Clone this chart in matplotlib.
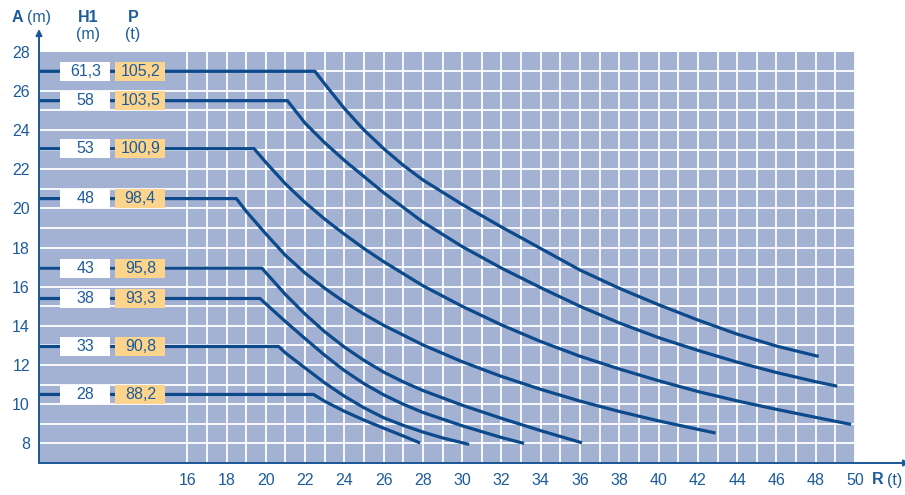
import matplotlib
matplotlib.use('Agg')
import matplotlib.pyplot as plt
from matplotlib.patches import Rectangle

plt.rcParams['font.family'] = ['Liberation Sans', 'DejaVu Sans']

# ---------------- data ----------------
h1_labels = ['61,3', '58', '53', '48', '43', '38', '33', '28']
p_labels = ['105,2', '103,5', '100,9', '98,4', '95,8', '93,3', '90,8', '88,2']

# each curve: first point = knee of the flat part (R in t, A in m)
r_1 = [22.5, 23, 24, 25, 26, 27, 28, 30, 32, 34, 36, 38, 40, 42, 44, 46, 48.15]
a_1 = [27.0, 26.35, 25.1, 24.0, 23.05, 22.2, 21.45, 20.2, 19.05, 17.95, 16.85, 15.92,
       15.08, 14.3, 13.58, 12.97, 12.44]

r_2 = [21.1, 22, 23, 24, 26, 28, 30, 32, 34, 36, 38, 40, 42, 44, 46, 48, 49.1]
a_2 = [25.5, 24.35, 23.35, 22.45, 20.8, 19.3, 18.05, 16.95, 15.95, 15.0, 14.15, 13.4,
       12.75, 12.15, 11.62, 11.15, 10.92]

r_3 = [19.4, 20, 21, 22, 23, 24, 25, 26, 28, 30, 32, 34, 36, 38, 40, 42, 44, 46, 48, 49.8]
a_3 = [23.05, 22.35, 21.25, 20.3, 19.45, 18.68, 17.95, 17.28, 16.05, 15.0, 14.05, 13.2,
       12.45, 11.8, 11.2, 10.65, 10.17, 9.74, 9.33, 8.97]

r_4 = [18.5, 19, 20, 21, 22, 23, 24, 25, 26, 28, 30, 32, 34, 36, 38, 40, 42, 42.9]
a_4 = [20.5, 19.85, 18.7, 17.6, 16.7, 15.92, 15.22, 14.6, 14.03, 13.03, 12.17, 11.42,
       10.76, 10.16, 9.63, 9.15, 8.72, 8.53]

r_5 = [19.8, 20, 21, 22, 23, 24, 25, 26, 27, 28, 30, 32, 34, 36.1]
a_5 = [16.95, 16.72, 15.6, 14.6, 13.7, 12.92, 12.24, 11.64, 11.14, 10.7, 9.95, 9.28,
       8.65, 8.03]

r_6 = [19.7, 21, 22, 23, 24, 25, 26, 27, 28, 30, 32, 33.15]
a_6 = [15.4, 14.22, 13.35, 12.5, 11.72, 11.05, 10.48, 10.0, 9.58, 8.9, 8.3, 8.0]

r_7 = [20.65, 21, 22, 23, 24, 25, 26, 27, 28, 29, 30.35]
a_7 = [12.95, 12.62, 11.85, 11.09, 10.41, 9.82, 9.31, 8.92, 8.58, 8.28, 7.95]

r_8 = [22.43, 23, 24, 25, 26, 27, 27.86]
a_8 = [10.5, 10.15, 9.64, 9.19, 8.78, 8.38, 8.02]

curves_r = [r_1, r_2, r_3, r_4, r_5, r_6, r_7, r_8]
curves_a = [a_1, a_2, a_3, a_4, a_5, a_6, a_7, a_8]

x_ticks = list(range(16, 51, 2))
y_ticks = list(range(8, 29, 2))
x_grid = list(range(16, 51))
y_grid = list(range(8, 28))

# ---------------- style ----------------
W, H = 905, 495
BG = '#a3b1d3'
LINE = '#0c4a8c'
TXT = '#1c5b9c'
ORANGE = '#fdd48c'

fig = plt.figure(figsize=(W / 100, H / 100), dpi=100)
fig.patch.set_facecolor('white')
ax_l, ax_r, ax_t, ax_b = 39, 855, 51.7, 463
ax = fig.add_axes([ax_l / W, 1 - ax_b / H, (ax_r - ax_l) / W, (ax_b - ax_t) / H])
ax.set_xlim(8.45, 50)
ax.set_ylim(7, 28)
ax.set_facecolor(BG)

for x in x_grid:
    ax.axvline(x, color='white', lw=1.3, zorder=1)
for y in y_grid:
    ax.axhline(y, color='white', lw=1.3, zorder=1)

x0 = ax.get_xlim()[0]
for rr, aa, h1, p in zip(curves_r, curves_a, h1_labels, p_labels):
    ax.plot([x0] + rr, [aa[0]] + aa, color=LINE, lw=2.3, zorder=3,
            solid_joinstyle='round', solid_capstyle='butt', clip_on=False)
    yc = aa[0]
    ax.add_patch(Rectangle((9.54, yc - 0.48), 2.54, 0.96, facecolor='white',
                           edgecolor='none', zorder=4))
    ax.add_patch(Rectangle((12.34, yc - 0.48), 2.54, 0.96, facecolor=ORANGE,
                           edgecolor='none', zorder=4))
    ax.text(9.54 + 1.27, yc, h1, ha='center', va='center', color=TXT,
            fontsize=11.5, zorder=5)
    ax.text(12.34 + 1.27, yc, p, ha='center', va='center', color=TXT,
            fontsize=11.5, zorder=5)

ax.set_xticks(x_ticks)
ax.set_xticklabels([str(v) for v in x_ticks])
ax.set_yticks(y_ticks)
ax.set_yticklabels([str(v) for v in y_ticks])
ax.tick_params(length=0, labelsize=11.5, labelcolor=TXT)
ax.tick_params(axis='x', pad=7)
ax.tick_params(axis='y', pad=6.5)
for s in ax.spines.values():
    s.set_visible(False)

# axes with arrows
ax.annotate('', xy=(0, (ax_b - 29) / (ax_b - ax_t)), xycoords='axes fraction',
            xytext=(0, 0), textcoords='axes fraction',
            arrowprops=dict(arrowstyle='-|>', color='#1a5796', lw=1.4,
                            mutation_scale=9, shrinkA=0, shrinkB=0))
ax.annotate('', xy=((910 - ax_l) / (ax_r - ax_l), 0), xycoords='axes fraction',
            xytext=(0, 0), textcoords='axes fraction',
            arrowprops=dict(arrowstyle='-|>', color='#1a5796', lw=1.4,
                            mutation_scale=9, shrinkA=0, shrinkB=0))

def ftext(x, y, s, **kw):
    fig.text(x / W, 1 - y / H, s, color=TXT, fontsize=11.5, va='center', **kw)

ftext(12, 17.5, 'A', ha='left', fontweight='bold')
ftext(27, 17.5, '(m)', ha='left')
ftext(88, 17.5, 'H1', ha='center', fontweight='bold')
ftext(88, 35, '(m)', ha='center')
ftext(133, 17.5, 'P', ha='center', fontweight='bold')
ftext(133, 35, '(t)', ha='center')
ftext(872, 480, 'R', ha='left', fontweight='bold')
ftext(887, 480, '(t)', ha='left')

fig.savefig('out.png', dpi=100, facecolor='white')
